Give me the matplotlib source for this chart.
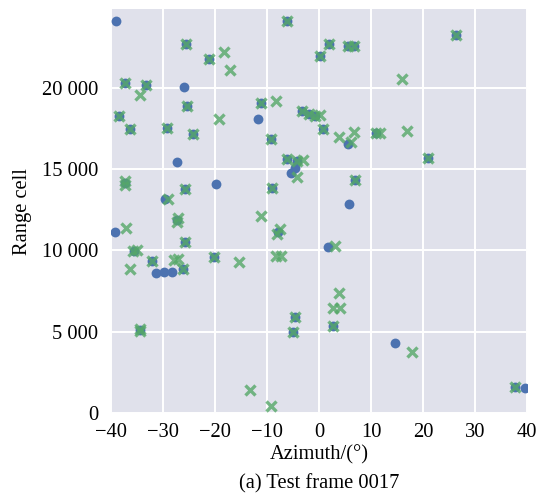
import numpy as np
import matplotlib.pyplot as plt
from matplotlib.ticker import FuncFormatter

# tracks (blue circles) and detections (green crosses) for test frame 0017
track_az = [-39.0, -25.9, -11.7, -27.4, -19.9, -39.3, 5.7, 1.8, 14.6, 39.5,
            -5.4, -4.6, -31.4, -29.8, -28.2, -29.6, 5.6,
            -25.6, -21.2, -6.2, -37.3, -33.2, -38.4, -25.3, -36.3, -29.2, -24.3,
            -11.2, -9.3, -3.3, -2.0, -0.8, 26.4, 1.9, 5.6, 6.8, 0.2, 0.7, 11.0,
            20.9, -6.2, -4.3, 6.9, -9.1, -37.3, -25.8, -27.3, -7.9, -25.8, -35.6,
            -32.2, -26.1, -20.1, -4.7, -34.4, 2.7, 37.7, -5.1]
track_rng = [24090, 20020, 18050, 15400, 14050, 11140, 12840, 10180, 4290, 1530,
             14760, 15030, 8590, 8690, 8690, 13130, 16560,
             22660, 21740, 24070, 20300, 20180, 18280, 18850, 17460, 17520, 17140,
             19080, 16830, 18560, 18360, 18240, 23200, 22700, 22580, 22580, 21920,
             17440, 17180, 15680, 15640, 15500, 14330, 13850, 14110, 13740, 11860,
             11100, 10530, 9980, 9360, 8830, 9610, 5890, 5100, 5360, 1630, 5010]

det_az = [-18.3, -17.2, -34.4, -19.2, -8.3, 16.0, 3.9, 6.7, 16.9, 0.2,
          -3.1, -4.3, -11.2, -37.2, -36.3, -27.9, -27.1, -15.3, 3.1, 3.9,
          2.7, 4.0, 17.9, -13.2, -9.3, -8.2, -7.4, -29.0, 6.1,
          -25.6, -21.2, -6.2, -37.3, -33.2, -38.4, -25.3, -36.3, -29.2, -24.3,
          -11.2, -9.3, -3.3, -2.0, -0.8, 26.4, 1.9, 5.6, 6.8, 0.2, 0.7, 11.0,
          11.8, 20.9, -6.2, -4.3, 6.9, -9.1, -37.3, -37.3, -25.8, -27.4, -27.2,
          -8.0, -7.6, -25.8, -35.8, -35.0, -32.2, -26.1, -20.1, -4.7, -34.4,
          -34.4, 2.7, 37.7, -5.1]
det_rng = [22180, 21060, 19550, 18070, 19180, 20550, 16970, 17270, 17320, 18300,
           15580, 14520, 12120, 11350, 8850, 9400, 9450, 9300, 10260, 7360,
           6440, 6440, 3740, 1430, 410, 9650, 9650, 13180, 16660,
           22660, 21740, 24070, 20300, 20180, 18280, 18850, 17460, 17520, 17140,
           19080, 16830, 18560, 18360, 18240, 23200, 22700, 22580, 22580, 21920,
           17440, 17180, 17180, 15680, 15640, 15500, 14330, 13850, 14000, 14250,
           13740, 11760, 12000, 11000, 11300, 10530, 9950, 10050, 9360, 8830,
           9610, 5890, 5070, 5200, 5360, 1630, 5010]

plt.rcParams['font.family'] = 'Liberation Serif'
plt.rcParams['font.size'] = 14.8

fig = plt.figure(figsize=(5.44, 4.96), dpi=100)
ax = fig.add_axes([0.204, 0.167, 0.765, 0.814])
ax.set_facecolor('#e0e1eb')
ax.set_axisbelow(True)
ax.grid(color='white', linewidth=1.4)
for s in ax.spines.values():
    s.set_visible(False)

ax.scatter(track_az, track_rng, s=50, marker='o', color='#4C72B0', linewidths=0, zorder=3)
ax.scatter(det_az, det_rng, s=52, marker='x', color='#55A868', linewidths=2.4,
           alpha=0.8, zorder=4)

ax.set_xlim(-40, 40)
ax.set_ylim(0, 24800)
ax.set_xticks(np.arange(-40, 41, 10))
ax.set_yticks(np.arange(0, 20001, 5000))
ax.yaxis.set_major_formatter(FuncFormatter(lambda v, p: f'{int(v):,}'.replace(',', ' ')))
ax.tick_params(length=0)
ax.tick_params(axis='x', pad=7)
ax.tick_params(axis='y', pad=9)

ax.set_xlabel('Azimuth/(°)')
ax.set_ylabel('Range cell')
ax.xaxis.set_label_coords(0.5, -0.08)
ax.yaxis.set_label_coords(-0.19, 0.5)
fig.text(0.586, 0.024, '(a) Test frame 0017', ha='center', va='center', fontsize=14.8)

fig.savefig('out.png', dpi=100)
